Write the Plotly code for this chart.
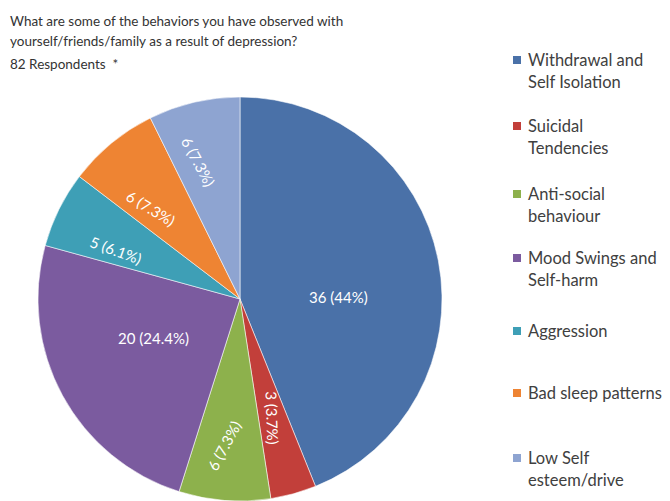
import math
import plotly.graph_objects as go

# Survey answers (82 respondents)
categories = [
    "Withdrawal and<br>Self Isolation",
    "Suicidal<br>Tendencies",
    "Anti-social<br>behaviour",
    "Mood Swings and<br>Self-harm",
    "Aggression",
    "Bad sleep patterns",
    "Low Self<br>esteem/drive",
]
counts = [36, 3, 6, 20, 5, 6, 6]
percent_labels = ["44%", "3.7%", "7.3%", "24.4%", "6.1%", "7.3%", "7.3%"]

title_lines = [
    "What are some of the behaviors you have observed with",
    "yourself/friends/family as a result of depression?",
    "82 Respondents  *",
]

# Styling
colors = ["#4A71A8", "#C23F3A", "#8DB14C", "#7B5B9F", "#3E9FB6", "#EE8433", "#8EA4D1"]
label_radius = [0.49, 0.61, 0.73, 0.47, 0.66, 0.63, 0.71]   # fraction of pie radius
label_angle_shift = [10, 0, 2, 4, -5, -5, -3.5]              # degrees, clockwise
label_rotation = [0, 88, -62, 0, 20, 31, 62]                 # text angle, degrees

W, H = 670, 501
FONT = "Lato, 'Open Sans', sans-serif"

# Pie placement (paper fractions)
dom_x = [38 / W, 442 / W]
dom_y = [0.0, 1 - 97 / H]

fig = go.Figure(
    go.Pie(
        labels=categories,
        values=counts,
        sort=False,
        direction="clockwise",
        rotation=0,
        marker=dict(colors=colors, line=dict(color="rgba(255,255,255,0.55)", width=1)),
        textinfo="none",
        hoverinfo="label+value+percent",
        showlegend=False,
        domain=dict(x=dom_x, y=dom_y),
    )
)

annotations = []
shapes = []

# Slice labels, placed along each slice's mid-angle
cx = (dom_x[0] + dom_x[1]) / 2 * W
cy = (1 - (dom_y[0] + dom_y[1]) / 2) * H
R = min((dom_x[1] - dom_x[0]) * W, (dom_y[1] - dom_y[0]) * H) / 2
total = sum(counts)
cum = 0
for i, v in enumerate(counts):
    mid = (cum + v / 2) / total * 360 + label_angle_shift[i]
    cum += v
    th = math.radians(mid)
    px = cx + label_radius[i] * R * math.sin(th)
    py = cy - label_radius[i] * R * math.cos(th)
    annotations.append(dict(
        x=px / W, y=1 - py / H, xref="paper", yref="paper",
        text=f"{v} ({percent_labels[i]})", showarrow=False,
        textangle=label_rotation[i], xanchor="center", yanchor="middle",
        font=dict(family=FONT, size=15, color="white"),
    ))

# Title block
title_y = [21, 41, 64]
for line, ty in zip(title_lines, title_y):
    annotations.append(dict(
        x=8 / W, y=1 - ty / H, xref="paper", yref="paper", text=line,
        showarrow=False, xanchor="left", yanchor="middle",
        font=dict(family=FONT, size=13.5, color="#333333"),
    ))

# Legend on the right
legend_y = [60, 126, 194, 258, 331, 393, 458]
line_gap = 22
for i, name in enumerate(categories):
    y0 = legend_y[i]
    shapes.append(dict(
        type="rect", xref="paper", yref="paper",
        x0=513 / W, x1=521 / W, y0=1 - (y0 - 4) / H, y1=1 - (y0 + 4) / H,
        fillcolor=colors[i], line=dict(width=0),
    ))
    for k, part in enumerate(name.split("<br>")):
        annotations.append(dict(
            x=526 / W, y=1 - (y0 + k * line_gap) / H, xref="paper", yref="paper",
            text=part, showarrow=False, xanchor="left", yanchor="middle",
            font=dict(family=FONT, size=16.5, color="#404040"),
        ))

fig.update_layout(
    width=W, height=H,
    margin=dict(l=0, r=0, t=0, b=0),
    paper_bgcolor="white", plot_bgcolor="white",
    annotations=annotations, shapes=shapes,
)

fig.write_html("out.html")
